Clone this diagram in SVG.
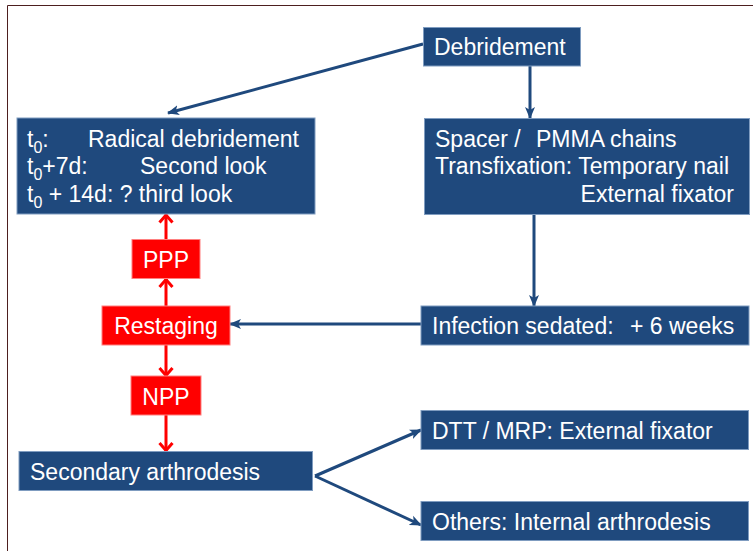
<svg xmlns="http://www.w3.org/2000/svg" width="753" height="551" viewBox="0 0 753 551">
<defs>
<style>
.box{fill:#1f497d;stroke:#7f9cc0;stroke-width:1}
.rbox{fill:#ff0000;stroke:#ff8080;stroke-width:1}
.t{font-family:"Liberation Sans",Arial,sans-serif;font-size:23px;fill:#ffffff}
.sub{font-size:16px}
.bl{stroke:#1f497d;stroke-width:3;fill:none}
.rd{stroke:#ff0000;stroke-width:3;fill:none}
</style>
<marker id="ab" markerUnits="userSpaceOnUse" markerWidth="12" markerHeight="12" viewBox="0 0 12 12" refX="11" refY="6" orient="auto">
<path d="M0,1 L12,6 L0,11 L3,6 Z" fill="#1f497d"/>
</marker>
<marker id="ar" markerUnits="userSpaceOnUse" markerWidth="14" markerHeight="16" viewBox="0 0 14 16" refX="11" refY="8" orient="auto">
<path d="M3,1.5 L10.5,8 L3,14.5" fill="none" stroke="#ff0000" stroke-width="3"/>
</marker>
</defs>
<rect width="753" height="551" fill="#ffffff"/>
<path d="M7.5,551 V5.5 H753" fill="none" stroke="#4d1f1f" stroke-width="1"/>

<g id="connectors">
<line class="bl" x1="423" y1="44" x2="168" y2="113" marker-end="url(#ab)"/>
<line class="bl" x1="530" y1="66" x2="530" y2="118" marker-end="url(#ab)"/>
<line class="bl" x1="534" y1="214" x2="534" y2="306" marker-end="url(#ab)"/>
<line class="bl" x1="421" y1="324" x2="230" y2="324" marker-end="url(#ab)"/>
<line class="bl" x1="315" y1="476" x2="421" y2="430" marker-end="url(#ab)"/>
<line class="bl" x1="315" y1="476" x2="421" y2="525" marker-end="url(#ab)"/>
<line class="rd" x1="166" y1="239" x2="166" y2="214.5" marker-end="url(#ar)"/>
<line class="rd" x1="166" y1="306" x2="166" y2="279" marker-end="url(#ar)"/>
<line class="rd" x1="166" y1="345" x2="166" y2="376" marker-end="url(#ar)"/>
<line class="rd" x1="166" y1="415" x2="166" y2="451" marker-end="url(#ar)"/>
</g>

<g id="debridement">
<rect class="box" x="423.5" y="27.5" width="157" height="38.5"/>
<text class="t" x="434" y="55">Debridement</text>
</g>

<g id="radical">
<rect class="box" x="17" y="118" width="298" height="96"/>
<text class="t" x="27" y="146.5">t<tspan class="sub" dy="6">0</tspan><tspan dy="-6">:</tspan><tspan x="88">Radical debridement</tspan></text>
<text class="t" x="27" y="174">t<tspan class="sub" dy="6">0</tspan><tspan dy="-6">+7d:</tspan><tspan x="140">Second look</tspan></text>
<text class="t" x="27" y="201.5">t<tspan class="sub" dy="6">0</tspan><tspan dy="-6"> + 14d: ? third look</tspan></text>
</g>

<g id="spacer">
<rect class="box" x="424.5" y="118.5" width="325" height="96"/>
<text class="t" x="435" y="146.5">Spacer /<tspan x="536">PMMA chains</tspan></text>
<text class="t" x="435" y="174">Transfixation: Temporary nail</text>
<text class="t" x="734" y="201.5" text-anchor="end">External fixator</text>
</g>

<g id="infection">
<rect class="box" x="421" y="306" width="328" height="39"/>
<text class="t" x="432" y="334">Infection sedated:<tspan x="630">+ 6 weeks</tspan></text>
</g>

<g id="ppp">
<rect class="rbox" x="132" y="239.5" width="68" height="39"/>
<text class="t" x="166" y="267.5" text-anchor="middle">PPP</text>
</g>

<g id="restaging">
<rect class="rbox" x="102" y="306" width="128" height="39"/>
<text class="t" x="166" y="334" text-anchor="middle">Restaging</text>
</g>

<g id="npp">
<rect class="rbox" x="131" y="376" width="70" height="39"/>
<text class="t" x="166" y="405" text-anchor="middle">NPP</text>
</g>

<g id="secondary">
<rect class="box" x="19" y="451.5" width="293.5" height="39"/>
<text class="t" x="30" y="479.5">Secondary arthrodesis</text>
</g>

<g id="dtt">
<rect class="box" x="421" y="410.5" width="327.5" height="39"/>
<text class="t" x="432" y="438.5">DTT / MRP: External fixator</text>
</g>

<g id="others">
<rect class="box" x="421" y="501.5" width="327.5" height="39"/>
<text class="t" x="432" y="529.5">Others: Internal arthrodesis</text>
</g>
</svg>
